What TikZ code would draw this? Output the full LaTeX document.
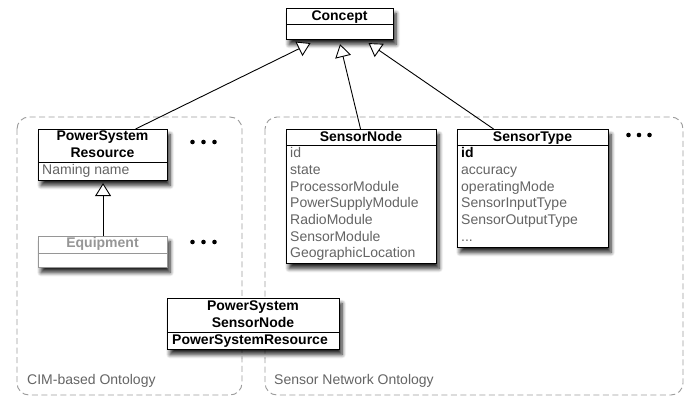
\documentclass[tikz,border=0pt]{standalone}
\usepackage{fontspec}
\setmainfont{Liberation Sans}
\usetikzlibrary{arrows.meta,shadows.blur,calc}
\definecolor{attrgray}{RGB}{100,100,100}
\definecolor{lightgray}{RGB}{150,150,150}
\definecolor{dashgray}{RGB}{155,155,155}
\tikzset{
  cls/.style={draw=black, line width=1.1pt, fill=white, anchor=north west, inner sep=0pt,
    blur shadow={shadow xshift=2.5pt, shadow yshift=-5pt, shadow blur radius=4pt, shadow opacity=85, shadow blur steps=8}},
  ttl/.style={font=\bfseries\fontsize{14}{17}\selectfont, inner sep=0pt, anchor=base},
  attr/.style={font=\fontsize{14}{17}\selectfont, text=attrgray, inner sep=0pt, anchor=base west},
  battr/.style={font=\bfseries\fontsize{14}{17}\selectfont, text=black, inner sep=0pt, anchor=base west},
  divider/.style={line width=1pt},
  inh/.style={-{Triangle[open, fill=white, width=16pt, length=13pt]}, line width=0.9pt},
  region/.style={draw=dashgray, line width=0.9pt, dash pattern=on 6pt off 3.5pt, rounded corners=12pt},
  lbl/.style={font=\fontsize{14}{17}\selectfont, text=attrgray, inner sep=0pt, anchor=base west},
}
\begin{document}
\begin{tikzpicture}[x=1pt, y=-1pt]
\useasboundingbox (0,0) rectangle (690,398);
% ontology regions
\draw[region] (17,117) rectangle (242,395);
\draw[region] (265,117) rectangle (683,395);
\node[lbl] (cimlbl) at (27,384) {CIM-based Ontology};
\node[lbl] (snlbl) at (274,384) {Sensor Network Ontology};

% Concept
\node[cls, minimum width=107pt, minimum height=31pt] (concept) at (286,8) {};
\draw[divider] (concept.west |- 0,25) -- (concept.east |- 0,25);
\node[ttl] (conceptT) at (339.5,20.5) {Concept};

% PowerSystemResource
\node[cls, minimum width=129pt, minimum height=51pt] (psr) at (38,129) {};
\draw[divider] (psr.west |- 0,163) -- (psr.east |- 0,163);
\node[ttl] (psrT1) at (102.5,141) {PowerSystem};
\node[ttl] (psrT2) at (102.5,158) {Resource};
\node[attr] (psrA1) at (42,174.5) {Naming name};

% Equipment
\node[cls, draw=lightgray, minimum width=129pt, minimum height=31pt] (eq) at (38,236) {};
\draw[divider, draw=lightgray] (eq.west |- 0,253) -- (eq.east |- 0,253);
\node[ttl, text=lightgray] (eqT) at (102.5,247.5) {Equipment};

% dots
\foreach \x in {192.5,203.5,214.5} {
  \fill (\x,142) circle (2.3pt);
  \fill (\x,242) circle (2.3pt);
}
\foreach \x in {628.5,639,649.5} {
  \fill (\x,135) circle (2.3pt);
}

% SensorNode
\node[cls, minimum width=150pt, minimum height=134pt] (sn) at (286,129) {};
\draw[divider] (sn.west |- 0,146) -- (sn.east |- 0,146);
\node[ttl] (snT) at (361,142) {SensorNode};
\foreach \txt [count=\i from 0] in {id,state,ProcessorModule,PowerSupplyModule,RadioModule,SensorModule,GeographicLocation} {
  \node[attr] (snA\i) at (290,158+16.6*\i) {\txt};
}

% SensorType
\node[cls, minimum width=151pt, minimum height=118pt] (st) at (457,129) {};
\draw[divider] (st.west |- 0,146) -- (st.east |- 0,146);
\node[ttl] (stT) at (532.5,142) {SensorType};
\node[battr] (stA0) at (461,158) {id};
\foreach \txt [count=\i from 1] in {accuracy,operatingMode,SensorInputType,SensorOutputType} {
  \node[attr] (stA\i) at (461,158+16.6*\i) {\txt};
}
\node[attr] (stA5) at (461,158+16.6*5) {...};

% PowerSystem SensorNode
\node[cls, minimum width=172pt, minimum height=51pt] (pssn) at (167,298) {};
\draw[divider] (pssn.west |- 0,332) -- (pssn.east |- 0,332);
\node[ttl] (pssnT1) at (253,310) {PowerSystem};
\node[ttl] (pssnT2) at (253,327) {SensorNode};
\node[battr] (pssnA1) at (172,344) {PowerSystemResource};

% inheritance connectors
\coordinate (t1) at ([xshift=-29.5pt,yshift=-3pt]concept.south);
\coordinate (t2) at ([yshift=-4pt]concept.south);
\coordinate (t3) at ([xshift=28.5pt,yshift=-3pt]concept.south);
\coordinate (s1) at ([xshift=32.5pt]psr.north);
\coordinate (s2) at ([xshift=-1pt]sn.north);
\coordinate (s3) at ([xshift=-39.5pt]st.north);
\draw[inh] (s1) -- (t1);
\draw[inh] (s2) -- (t2);
\draw[inh] (s3) -- (t3);
\draw[inh] (eq.north) -- ([yshift=-2pt]psr.south);
\end{tikzpicture}
\end{document}
